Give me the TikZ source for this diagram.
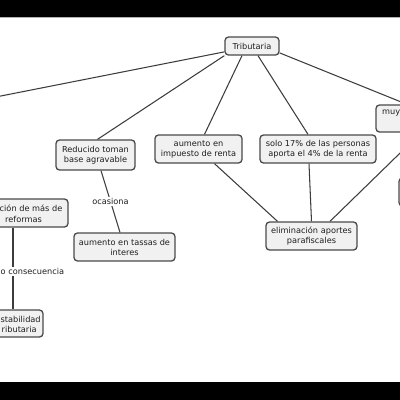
\documentclass[tikz,border=0pt]{standalone}
\usepackage{fontspec}
\setmainfont{DejaVu Sans}
\definecolor{boxline}{HTML}{4A4A4A}
\definecolor{conn}{HTML}{3C3C3C}
\definecolor{boxfill}{HTML}{F1F1F1}
\definecolor{txt}{HTML}{1E1E1E}
\begin{document}
\begin{tikzpicture}[x=1pt,y=-1pt,
  cbox/.style={draw=boxline, line width=1.3pt, rounded corners=3.5pt, fill=boxfill,
    inner sep=0pt, align=center, text=txt, font=\fontsize{8.2}{10}\selectfont},
  frag/.style={inner sep=0pt, text=txt, font=\fontsize{8.2}{10}\selectfont},
  lbl/.style={fill=white, inner sep=1pt, text=txt, font=\fontsize{8.2}{10}\selectfont},
  link/.style={draw=conn, line width=1.05pt}]
\useasboundingbox (0,0) rectangle (400,400);
\fill[white] (0,0) rectangle (400,400);
\clip (0,0) rectangle (400,400);
% nodes
\node[cbox, minimum width=54pt, minimum height=18pt] (trib) at (252,46) {Tributaria};
\node[cbox, minimum width=79pt, minimum height=30pt] (reduc) at (95.5,155) {Reducido toman\\base agravable};
\node[cbox, minimum width=87pt, minimum height=28pt] (imp) at (198.5,149) {aumento en\\impuesto de renta};
\node[cbox, minimum width=116pt, minimum height=28pt] (solo) at (318,149) {solo 17\% de las personas\\aporta el 4\% de la renta};
\node[cbox, minimum width=91pt, minimum height=28pt] (elim) at (311.5,236) {eliminación aportes\\parafiscales};
\node[cbox, minimum width=101pt, minimum height=28pt] (tassas) at (124.5,247) {aumento en tassas de\\interes};
\node[cbox, minimum width=120pt, minimum height=28pt] (refor) at (8,213) {};
\node[frag, anchor=east] (refor1) at (62.5,208.5) {ción de más de};
\node[frag, anchor=east] (refor2) at (42,219) {reformas};
\node[cbox, minimum width=73pt, minimum height=27pt] (estab) at (6.5,323.5) {};
\node[frag, anchor=west] (estab1) at (0.5,319) {stabilidad};
\node[frag, anchor=west] (estab2) at (1.5,329) {ributaria};
\node[cbox, minimum width=90pt, minimum height=27pt] (muy) at (421,118.5) {};
\node[frag, anchor=west] (muy1) at (382,113) {muy};
\node[cbox, minimum width=61pt, minimum height=28pt] (rbox) at (429.5,192) {};
\coordinate (farleft) at (-60,108);
% connectors
\draw[link] (trib.192) -- (farleft);
\draw[link] (trib.south west) -- ([xshift=2pt]reduc.north);
\draw[link] ([xshift=-10pt]trib.south) -- ([xshift=6pt]imp.north);
\draw[link] ([xshift=6pt]trib.south) -- ([xshift=-10pt]solo.north);
\draw[link] (trib.-14) -- ([xshift=-14pt]muy.north);
\draw[link] ([xshift=16pt]imp.south) -- ([xshift=-34pt]elim.north);
\draw[link] ([xshift=-9pt]solo.south) -- (elim.north);
\draw[link] (muy.south) -- ([xshift=18.5pt]elim.north);
\draw[link] ([xshift=5.5pt]reduc.south) -- node[lbl] (ocas) {ocasiona} ([xshift=-4.5pt]tassas.north);
\draw[link] ([xshift=5pt]refor.south) -- ([xshift=6.5pt]estab.north);
\node[lbl, anchor=west] (cons) at (-0.5,271.5) {o consecuencia};
% letterbox bars
\fill[black] (0,0) rectangle (400,16.5);
\draw[gray!60, line width=0.6pt] (0,16.8) -- (400,16.8);
\fill[black] (0,382) rectangle (400,400);
\end{tikzpicture}
\end{document}
